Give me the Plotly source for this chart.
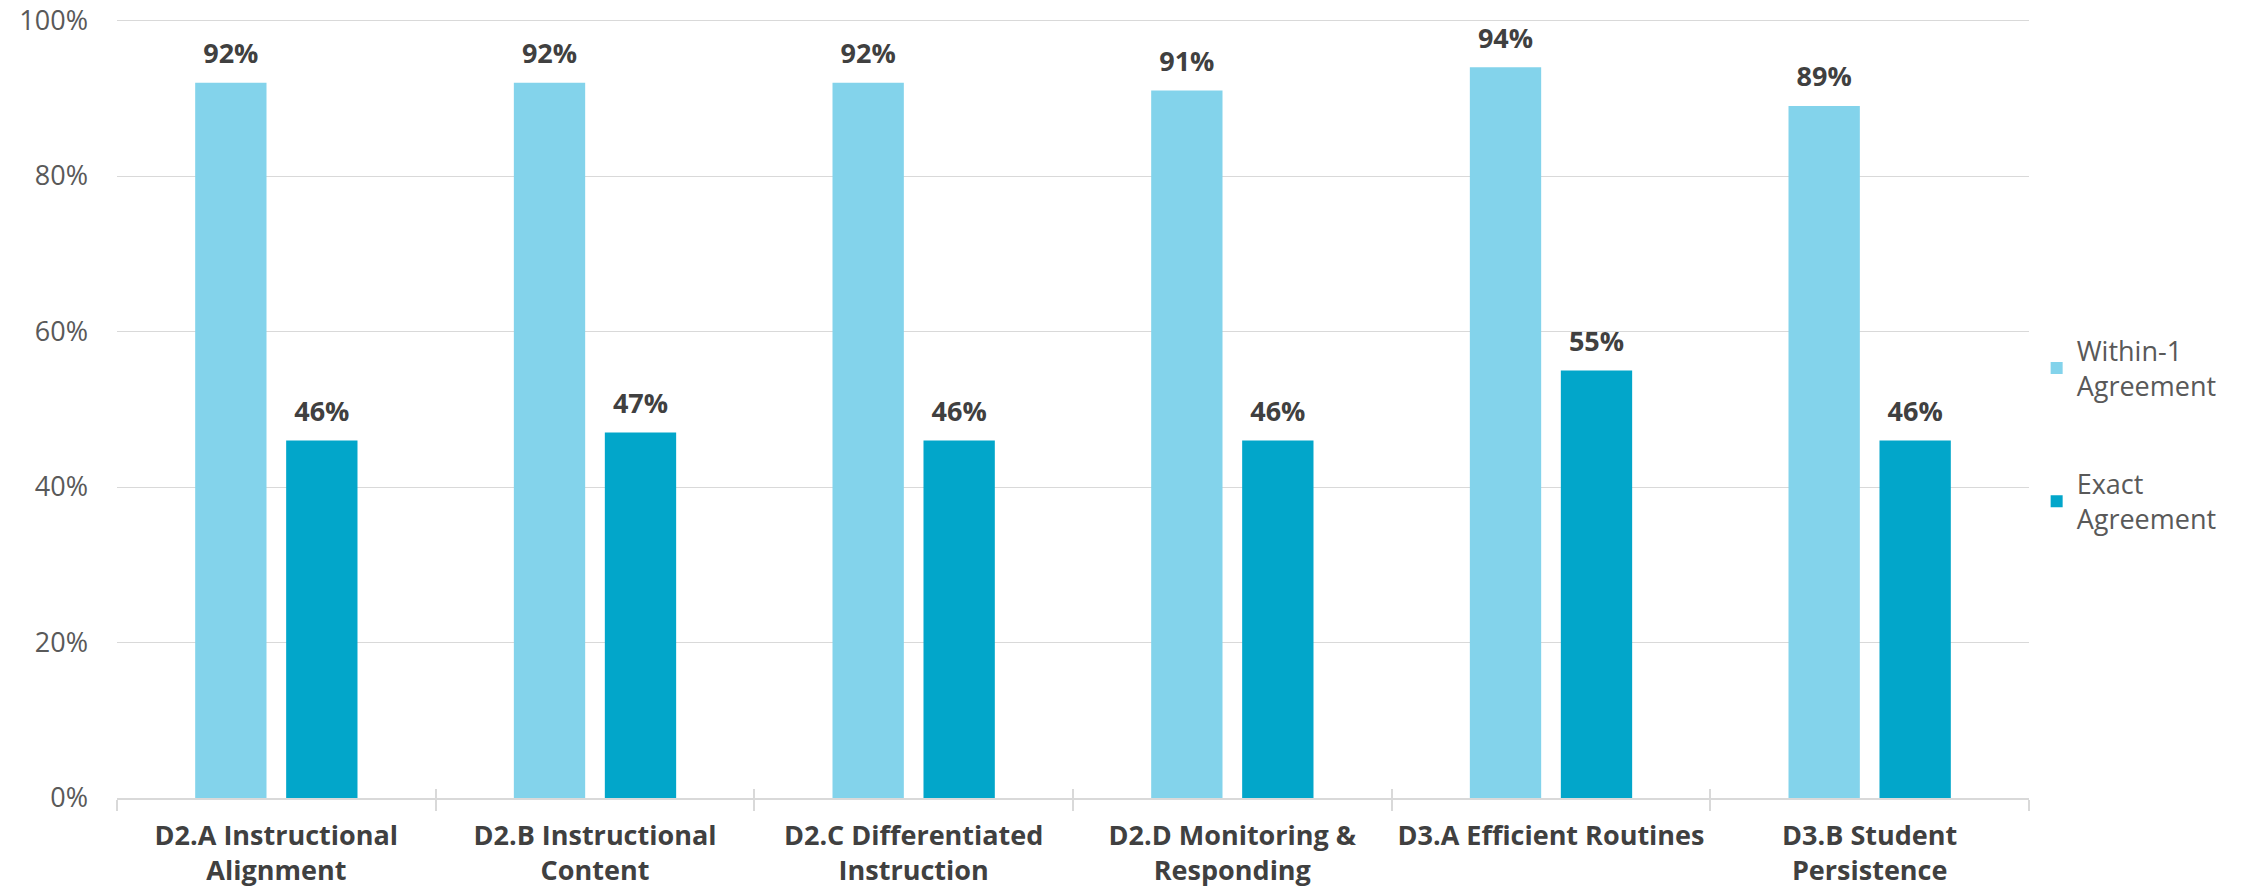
import plotly.graph_objects as go

categories = [
    "D2.A Instructional<br>Alignment",
    "D2.B Instructional<br>Content",
    "D2.C Differentiated<br>Instruction",
    "D2.D Monitoring &<br>Responding",
    "D3.A Efficient Routines",
    "D3.B Student<br>Persistence",
]
within1 = [92, 92, 92, 91, 94, 89]
exact = [46, 47, 46, 46, 55, 46]
series_names = ["Within-1<br>Agreement", "Exact<br>Agreement"]
y_ticks = [0, 20, 40, 60, 80, 100]
y_tick_labels = [f"{v}%" for v in y_ticks]

FONT = "Open Sans"
LIGHT = "#83D3EB"
DARK = "#02A6CA"
GRID = "#D9D9D9"

fig = go.Figure()
for i, (name, vals, col) in enumerate(zip(series_names, [within1, exact], [LIGHT, DARK])):
    fig.add_trace(go.Bar(
        x=categories, y=vals, name=name, marker=dict(color=col, line=dict(width=0)),
        offsetgroup=str(i), legendgroup=str(i), hoverinfo="skip",
    ))
for i, vals in enumerate([within1, exact]):
    fig.add_trace(go.Scatter(
        x=categories, y=vals, mode="markers+text", offsetgroup=str(i),
        text=[f"{v}%" for v in vals], textposition="top center",
        textfont=dict(family=FONT, size=27, color="#404040", weight="bold"),
        marker=dict(size=19, opacity=0), showlegend=False, hoverinfo="skip",
        cliponaxis=False, legendgroup="labels",
    ))
# dummy trace for the upper half of the crossing tick marks
fig.add_trace(go.Scatter(x=categories, y=[None] * len(categories), xaxis="x2",
                         showlegend=False, hoverinfo="skip", legendgroup="labels"))

fig.update_layout(
    width=2249, height=894,
    margin=dict(l=117, r=220, t=19, b=96),
    paper_bgcolor="white", plot_bgcolor="white",
    barmode="group", bargap=0.429, bargroupgap=0.216,
    scattermode="group", scattergap=0.429,
    font=dict(family=FONT, color="#595959"),
    showlegend=True,
    legend=dict(
        x=1.004, xanchor="left", y=0.466, yanchor="middle",
        font=dict(family=FONT, size=27, color="#595959"),
        tracegroupgap=60, traceorder="grouped",
        bgcolor="rgba(0,0,0,0)",
    ),
    xaxis=dict(
        type="category", range=[-0.5, len(categories) - 0.5], automargin=False,
        showline=True, linecolor=GRID, linewidth=1.5,
        ticks="outside", tickson="boundaries", ticklen=11, tickcolor=GRID, tickwidth=1.5,
        ticklabelstandoff=13,
        tickfont=dict(family=FONT, size=27, color="#404040", weight="bold"),
        showgrid=False, zeroline=False,
    ),
    xaxis2=dict(
        type="category", overlaying="x", anchor="y", side="bottom", automargin=False,
        range=[-0.5, len(categories) - 0.5],
        ticks="inside", tickson="boundaries", ticklen=9, tickcolor=GRID, tickwidth=1.5,
        showticklabels=False, showgrid=False, showline=False, zeroline=False,
    ),
    yaxis=dict(
        range=[0, 100.2], tickmode="array", tickvals=y_ticks, ticktext=y_tick_labels,
        automargin=False, ticklabeloverflow="allow",
        showgrid=True, gridcolor=GRID, gridwidth=1.3,
        zeroline=False, showline=False, ticks="",
        ticklabelstandoff=28,
        tickfont=dict(family=FONT, size=27, color="#595959"),
    ),
)

fig.write_html("out.html")
